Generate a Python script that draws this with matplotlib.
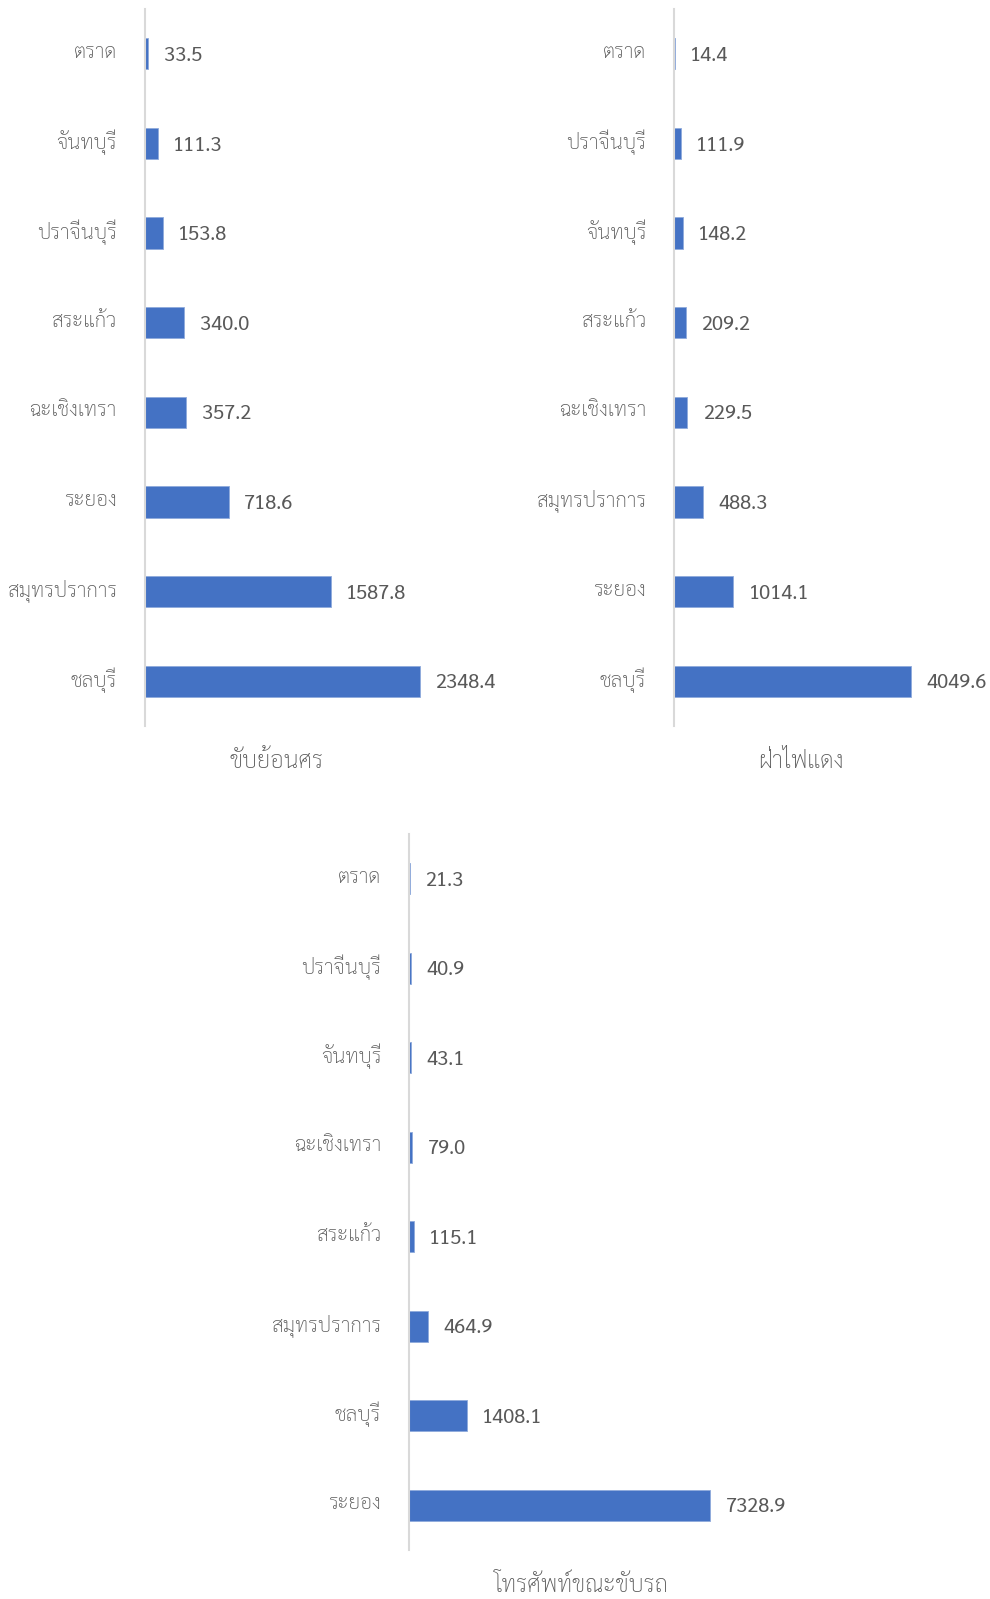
import matplotlib
matplotlib.use('Agg')
import matplotlib.pyplot as plt
from matplotlib.transforms import ScaledTranslation

plt.rcParams['font.family'] = ['Sarabun', 'DejaVu Sans']

# ขับย้อนศร (wrong-way driving)
wrongProv = ['ตราด', 'จันทบุรี', 'ปราจีนบุรี', 'สระแก้ว', 'ฉะเชิงเทรา', 'ระยอง', 'สมุทรปราการ', 'ชลบุรี']
wrongVals = [33.5, 111.3, 153.8, 340.0, 357.2, 718.6, 1587.8, 2348.4]
# ฝ่าไฟแดง (red light)
redProv = ['ตราด', 'ปราจีนบุรี', 'จันทบุรี', 'สระแก้ว', 'ฉะเชิงเทรา', 'สมุทรปราการ', 'ระยอง', 'ชลบุรี']
redVals = [14.4, 111.9, 148.2, 209.2, 229.5, 488.3, 1014.1, 4049.6]
# โทรศัพท์ขณะขับรถ (phone while driving)
phoneProv = ['ตราด', 'ปราจีนบุรี', 'จันทบุรี', 'ฉะเชิงเทรา', 'สระแก้ว', 'สมุทรปราการ', 'ชลบุรี', 'ระยอง']
phoneVals = [21.3, 40.9, 43.1, 79.0, 115.1, 464.9, 1408.1, 7328.9]

titles = ['ขับย้อนศร', 'ฝ่าไฟแดง', 'โทรศัพท์ขณะขับรถ']

W, H = 990, 1599
BAR = '#4472C4'
TXT = '#595959'
AXC = '#D9D9D9'

fig = plt.figure(figsize=(W / 100, H / 100), dpi=100)


def panel(provs, vals, title, x0, ytop, ybot, pxPerUnit, xmax, titleX, titleY):
    wpx = xmax * pxPerUnit
    ax = fig.add_axes([x0 / W, 1 - ybot / H, wpx / W, (ybot - ytop) / H])
    n = len(provs)
    ax.barh(range(n), vals, height=0.35, color=BAR, edgecolor='#8FAADC', lw=0.6)
    ax.set_xlim(0, xmax)
    ax.set_ylim(n - 0.5, -0.5)
    for s in ['top', 'right', 'bottom']:
        ax.spines[s].set_visible(False)
    ax.spines['left'].set_color(AXC)
    ax.spines['left'].set_linewidth(1.5)
    ax.set_xticks([])
    ax.set_yticks(range(n))
    ax.set_yticklabels(provs, fontsize=15, color=TXT, fontweight='light')
    ax.tick_params(axis='y', length=0, pad=20)
    # nudge Thai labels up a little, like the original
    up = ScaledTranslation(0, 4 / 100, fig.dpi_scale_trans)
    for lb in ax.get_yticklabels():
        lb.set_transform(lb.get_transform() + up)
    for i, v in enumerate(vals):
        ax.annotate('%.1f' % v, (v, i), xytext=(11, -1.5), textcoords='offset points',
                    va='center', ha='left', fontsize=14.5, color=TXT,
                    annotation_clip=False)
    fig.text(titleX / W, 1 - titleY / H, title, ha='center', va='center',
             fontsize=17, color=TXT, fontweight='light')
    return ax


panel(wrongProv, wrongVals, titles[0], 144.5, 9, 726, 0.1173, 3000, 276, 762)
panel(redProv, redVals, titles[1], 674, 9, 726, 0.0586, 5000, 801, 762)
panel(phoneProv, phoneVals, titles[2], 409, 834, 1550, 0.0411, 9000, 581, 1586)

fig.savefig('out.png', dpi=100)
